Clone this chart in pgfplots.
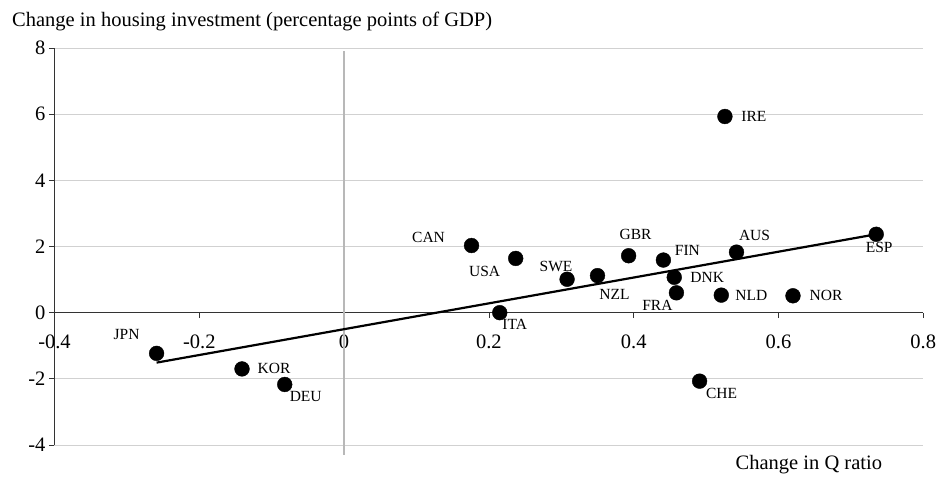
\documentclass[border=0pt]{standalone}
\usepackage{pgfplots}
\pgfplotsset{compat=1.18}
\usepackage{fontspec}
\setmainfont{Liberation Serif}
\begin{document}
\begin{tikzpicture}[x=1pt,y=1pt]
\useasboundingbox (-54.5,-35) rectangle (882.5,445);
\begin{axis}[
  at={(0,0)}, anchor=south west,
  scale only axis, width=868.8pt, height=397pt,
  xmin=-0.4, xmax=0.8, ymin=-4, ymax=8,
  axis x line=middle, axis y line=left,
  axis line style={-, black!80, line width=0.8pt},
  xtick={-0.4,-0.2,0,0.2,0.4,0.6,0.8},
  xticklabels={-0.4,-0.2,0,0.2,0.4,0.6,0.8},
  ytick={-4,-2,0,2,4,6,8},
  yticklabels={-4,-2,0,2,4,6,8},
  hide obscured x ticks=false, hide obscured y ticks=false,
  tick align=outside, major tick length=5.5pt,
  tick style={black!80, line width=0.8pt},
  ymajorgrids, grid style={black!18, line width=0.9pt},
  ticklabel style={font=\fontsize{20.5}{24}\selectfont},
  xticklabel style={anchor=north, yshift=-13pt},
  clip=false,
]
\addplot[black!28, line width=1.4pt] coordinates {(0,-4.30) (0,7.91)};
\addplot[black, line width=2.2pt] coordinates {(-0.259,-1.51) (0.735,2.37)};
\addplot[only marks, mark=*, mark size=7.4pt, black] table {
x y
-0.259 -1.23
-0.141 -1.70
-0.082 -2.17
0.176 2.03
0.237 1.64
0.215 0.00
0.308 1.01
0.350 1.12
0.393 1.72
0.441 1.59
0.456 1.07
0.459 0.60
0.491 -2.07
0.521 0.53
0.526 5.93
0.542 1.83
0.620 0.51
0.735 2.37
};
\begin{scope}[every node/.style={font=\fontsize{15.5}{18}\selectfont, inner sep=0pt, anchor=center}]
\node[xshift=-30pt, yshift=19pt] at (axis cs:-0.259,-1.23) {JPN};
\node[xshift=32pt, yshift=0pt] at (axis cs:-0.141,-1.70) {KOR};
\node[xshift=21pt, yshift=-12pt] at (axis cs:-0.082,-2.17) {DEU};
\node[xshift=-43pt, yshift=8pt] at (axis cs:0.176,2.03) {CAN};
\node[xshift=-31pt, yshift=-13pt] at (axis cs:0.237,1.64) {USA};
\node[xshift=15pt, yshift=-12pt] at (axis cs:0.215,0.00) {ITA};
\node[xshift=-11pt, yshift=13pt] at (axis cs:0.308,1.01) {SWE};
\node[xshift=17pt, yshift=-19pt] at (axis cs:0.350,1.12) {NZL};
\node[xshift=7pt, yshift=21pt] at (axis cs:0.393,1.72) {GBR};
\node[xshift=24pt, yshift=10pt] at (axis cs:0.441,1.59) {FIN};
\node[xshift=33pt, yshift=0pt] at (axis cs:0.456,1.07) {DNK};
\node[xshift=-19pt, yshift=-13pt] at (axis cs:0.459,0.60) {FRA};
\node[xshift=22pt, yshift=-12pt] at (axis cs:0.491,-2.07) {CHE};
\node[xshift=30pt, yshift=0pt] at (axis cs:0.521,0.53) {NLD};
\node[xshift=29pt, yshift=0pt] at (axis cs:0.526,5.93) {IRE};
\node[xshift=18pt, yshift=17pt] at (axis cs:0.542,1.83) {AUS};
\node[xshift=33pt, yshift=0pt] at (axis cs:0.620,0.51) {NOR};
\node[xshift=3pt, yshift=-13pt] at (axis cs:0.735,2.37) {ESP};
\end{scope}
\end{axis}
\node[anchor=base west, font=\fontsize{20.5}{24}\selectfont, inner sep=0pt] at (-42.5,418) {Change in housing investment (percentage points of GDP)};
\node[anchor=base west, font=\fontsize{20.5}{24}\selectfont, inner sep=0pt] at (681,-24) {Change in Q ratio};
\end{tikzpicture}
\end{document}
